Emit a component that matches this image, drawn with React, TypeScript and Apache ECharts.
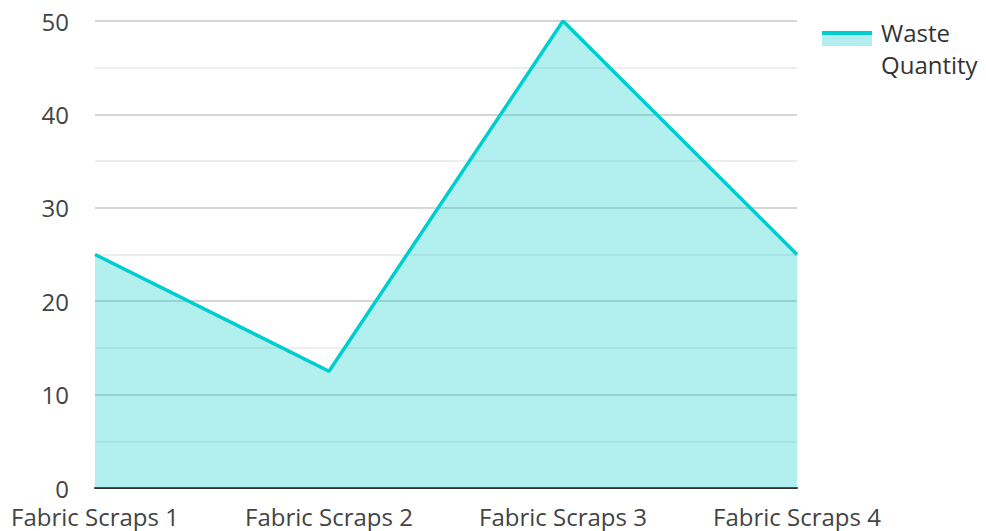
import React, { useEffect, useRef } from "react";
import * as echarts from "echarts";

const categories = ["Fabric Scraps 1", "Fabric Scraps 2", "Fabric Scraps 3", "Fabric Scraps 4"];
const wasteQuantity = [25, 12.5, 50, 25];
const seriesName = "Waste\nQuantity";

export default function App() {
  const ref = useRef<HTMLDivElement>(null);
  useEffect(() => {
    if (!ref.current) return;
    const chart = echarts.init(ref.current, undefined, { renderer: "svg" });
    const font = "'Open Sans', 'Noto Sans', sans-serif";
    chart.setOption({
      animation: false,
      textStyle: { fontFamily: font },
      grid: { left: 95, right: 189, top: 21, bottom: 43, containLabel: false },
      legend: {
        show: true,
        left: 822,
        top: 16,
        padding: 0,
        orient: "vertical",
        icon: "rect",
        itemWidth: 54,
        itemHeight: 14,
        itemStyle: { opacity: 0 },
        textStyle: {
          fontFamily: font,
          fontSize: 24,
          color: "#333",
          lineHeight: 32,
        },
        data: [{ name: seriesName }],
      },
      graphic: [
        {
          type: "rect",
          left: 822,
          top: 35,
          shape: { width: 50, height: 11 },
          style: { fill: "#b2eeee" },
          z: 100,
        },
        {
          type: "rect",
          left: 822,
          top: 31,
          shape: { width: 50, height: 4 },
          style: { fill: "#00cdcd" },
          z: 101,
        },
      ],
      xAxis: {
        type: "category",
        data: categories,
        boundaryGap: false,
        axisLine: { show: true, lineStyle: { color: "#333", width: 2 } },
        axisTick: { show: false },
        axisLabel: { fontSize: 24, lineHeight: 24, color: "#444", margin: 16, fontFamily: font, interval: 0 },
        splitLine: { show: false },
      },
      yAxis: {
        type: "value",
        min: 0,
        max: 50,
        interval: 10,
        axisLine: { show: false },
        axisTick: { show: false },
        axisLabel: { fontSize: 24, lineHeight: 18, color: "#444", margin: 26, fontFamily: font },
        splitLine: { show: true, lineStyle: { color: "#c8c8c8", width: 1.5 } },
        minorTick: { show: false, splitNumber: 2 },
        minorSplitLine: { show: true, lineStyle: { color: "#e8e8e8", width: 1.5 } },
      },
      series: [
        {
          name: seriesName,
          type: "line",
          data: wasteQuantity,
          symbol: "none",
          lineStyle: { color: "#00cdcd", width: 3.5 },
          itemStyle: { color: "#00cdcd" },
          areaStyle: { color: "#00cdcd", opacity: 0.3 },
        },
      ],
    });
    return () => chart.dispose();
  }, []);
  return <div ref={ref} style={{ width: 986, height: 531, position: "absolute", left: 0, top: 0 }} />;
}
